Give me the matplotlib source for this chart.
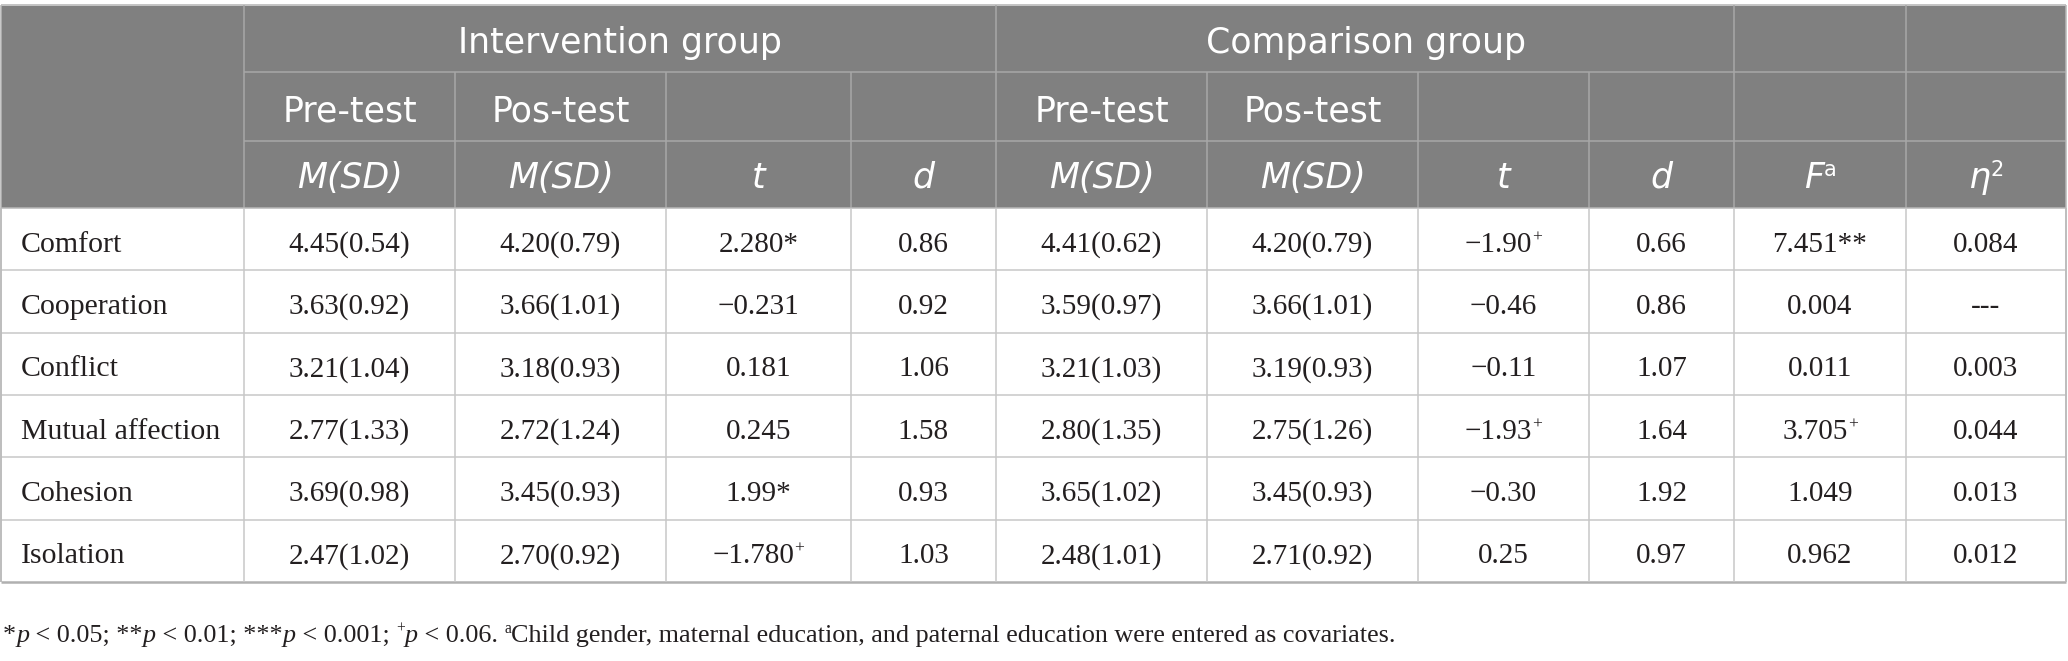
import matplotlib
matplotlib.use("Agg")
import matplotlib.pyplot as plt
from matplotlib.patches import Rectangle

# table data
scales = ["Comfort", "Cooperation", "Conflict", "Mutual affection", "Cohesion", "Isolation"]
int_pre = ["4.45(0.54)", "3.63(0.92)", "3.21(1.04)", "2.77(1.33)", "3.69(0.98)", "2.47(1.02)"]
int_post = ["4.20(0.79)", "3.66(1.01)", "3.18(0.93)", "2.72(1.24)", "3.45(0.93)", "2.70(0.92)"]
int_t = ["2.280*", "\u22120.231", "0.181", "0.245", "1.99*", "\u22121.780+"]
int_d = ["0.86", "0.92", "1.06", "1.58", "0.93", "1.03"]
cmp_pre = ["4.41(0.62)", "3.59(0.97)", "3.21(1.03)", "2.80(1.35)", "3.65(1.02)", "2.48(1.01)"]
cmp_post = ["4.20(0.79)", "3.66(1.01)", "3.19(0.93)", "2.75(1.26)", "3.45(0.93)", "2.71(0.92)"]
cmp_t = ["\u22121.90+", "\u22120.46", "\u22120.11", "\u22121.93+", "\u22120.30", "0.25"]
cmp_d = ["0.66", "0.86", "1.07", "1.64", "1.92", "0.97"]
f_vals = ["7.451**", "0.004", "0.011", "3.705+", "1.049", "0.962"]
eta_vals = ["0.084", "---", "0.003", "0.044", "0.013", "0.012"]

groups = ["Intervention group", "Comparison group"]
tests = ["Pre-test", "Pos-test"]

W, H = 2068, 661
fig = plt.figure(figsize=(W / 100, H / 100), dpi=100)
ax = fig.add_axes([0, 0, 1, 1])
ax.set_xlim(0, W)
ax.set_ylim(H, 0)
ax.axis("off")
renderer = fig.canvas.get_renderer()

cols = [1, 244, 455, 666, 851, 996, 1207, 1418, 1589, 1734, 1906, 2066]
head_rows = [5, 72, 141, 208]
row_h = (582 - 208) / 6
body_rows = [208 + i * row_h for i in range(7)]

HEAD_BG = "#808080"
HEAD_LINE = "#a8a8a8"
BODY_LINE = "#c8c8c8"
TXT = "#231f20"
SANS = "DejaVu Sans"
SERIF = "Liberation Serif"


def text_width(s, **kw):
    t1 = ax.text(0, 0, "X" + s + "X", **kw)
    t2 = ax.text(0, 0, "XX", **kw)
    w = t1.get_window_extent(renderer).width - t2.get_window_extent(renderer).width
    t1.remove()
    t2.remove()
    return w


def draw_runs(x, y, runs, size, family, color, ha="center"):
    # runs: (text, italic, superscript)
    parts = []
    for s, it, sup in runs:
        kw = dict(fontsize=size * (0.6 if sup else 1.0), family=family,
                  style="italic" if it else "normal", color=color)
        parts.append((s, kw, sup, text_width(s, **kw)))
    total = sum(p[3] for p in parts)
    cx = x - total / 2 if ha == "center" else x
    px = size * 100 / 72
    for s, kw, sup, w in parts:
        ax.text(cx, y - (0.36 * px if sup else 0), s, ha="left", va="baseline", **kw)
        cx += w


def value_runs(v):
    if v.endswith("+"):
        return [(v[:-1], False, False), ("+", False, True)]
    return [(v, False, False)]


# header block
ax.add_patch(Rectangle((cols[0], head_rows[0]), cols[-1] - cols[0], head_rows[-1] - head_rows[0],
                       facecolor=HEAD_BG, edgecolor="none"))
ax.hlines(head_rows[0], cols[0], cols[-1], color="#c4c4c4", lw=1.4)
ax.hlines(head_rows[1:3], cols[1], cols[-1], color=HEAD_LINE, lw=1.1)
for xc in [cols[1], cols[5], cols[9], cols[10]]:
    ax.vlines(xc, head_rows[0], head_rows[-1], color=HEAD_LINE, lw=1.1)
for xc in [cols[2], cols[3], cols[4], cols[6], cols[7], cols[8]]:
    ax.vlines(xc, head_rows[1], head_rows[-1], color=HEAD_LINE, lw=1.1)

hsize = 25
draw_runs((cols[1] + cols[5]) / 2, 53, [(groups[0], False, False)], hsize, SANS, "white")
draw_runs((cols[5] + cols[9]) / 2, 53, [(groups[1], False, False)], hsize, SANS, "white")
for g in range(2):
    for k in range(2):
        c = 1 + 4 * g + k
        draw_runs((cols[c] + cols[c + 1]) / 2, 121, [(tests[k], False, False)], hsize, SANS, "white")
sub_heads = [[("M(SD)", True, False)], [("M(SD)", True, False)], [("t", True, False)], [("d", True, False)]] * 2
sub_heads += [[("F", True, False), ("a", False, True)], [("\u03b7", True, False), ("2", False, True)]]
for c, runs in enumerate(sub_heads, start=1):
    draw_runs((cols[c] + cols[c + 1]) / 2, 188, runs, hsize, SANS, "white")

# body grid
ax.hlines(body_rows[1:-1], cols[0], cols[-1], color=BODY_LINE, lw=1.1)
ax.hlines(body_rows[0], cols[0], cols[-1], color="#b8b8b8", lw=1.1)
ax.hlines(body_rows[-1], cols[0], cols[-1], color="#b0b0b0", lw=1.8)
ax.vlines(cols, body_rows[0], body_rows[-1], color=BODY_LINE, lw=1.1)
ax.vlines([cols[0], cols[-1]], head_rows[0], body_rows[-1], color="#b8b8b8", lw=1.1)

columns = [int_pre, int_post, int_t, int_d, cmp_pre, cmp_post, cmp_t, cmp_d, f_vals, eta_vals]
for i, name in enumerate(scales):
    yb = (body_rows[i] + body_rows[i + 1]) / 2 + 12.5
    ax.text(21, yb, name, ha="left", va="baseline", fontsize=21.5, family=SERIF, color=TXT)
    for c, vals in enumerate(columns, start=1):
        draw_runs((cols[c] + cols[c + 1]) / 2, yb, value_runs(vals[i]), 21, SERIF, TXT)

# footnote
note = [("*", False, False), ("p", True, False), (" < 0.05; **", False, False),
        ("p", True, False), (" < 0.01; ***", False, False), ("p", True, False),
        (" < 0.001; ", False, False), ("+", False, True), ("p", True, False),
        (" < 0.06. ", False, False), ("a", False, True),
        ("Child gender, maternal education, and paternal education were entered as covariates.", False, False)]
draw_runs(3, 642, note, 18.8, SERIF, TXT, ha="left")

fig.savefig("out.png", dpi=100, facecolor="white")
